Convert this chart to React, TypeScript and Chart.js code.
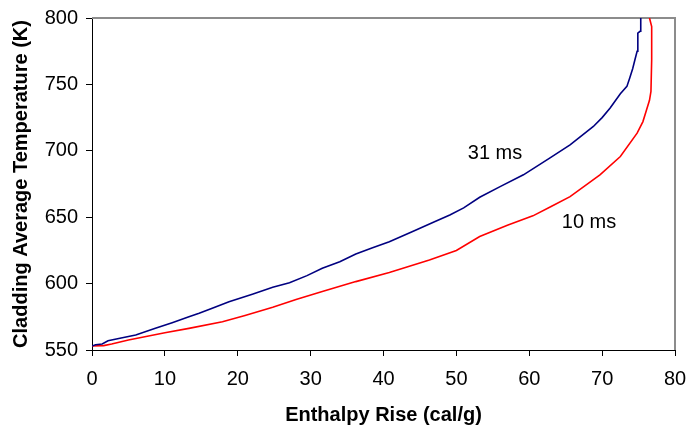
import React, { useEffect, useRef } from "react";
import { Chart, registerables } from "chart.js";

Chart.register(...registerables);

// 31 ms pulse (navy)
const blueX = [0, 0.5, 1.4, 2.2, 4, 6, 8.7, 11, 13.3, 14.7, 16.5, 18.8, 22, 24.8, 27.1, 29.5, 31.6, 34, 36.2, 38.5, 40.8, 44, 47, 49.1, 51, 53.2, 56, 59.2, 62.8, 65.6, 68.8, 70, 71.1, 72.5, 73.4, 73.8, 74.2, 74.5, 74.8, 74.9, 74.9, 75.2, 75.3];
const blueY = [553, 554, 554.5, 557, 559, 561.3, 566.3, 570.5, 575, 577.6, 581.5, 586.4, 592, 597.2, 600.7, 606, 611.5, 616.5, 622.3, 627, 631.6, 639.2, 646.5, 651.7, 657, 665, 673, 681.9, 694.5, 704.5, 718.3, 725, 732.2, 743, 748.5, 755, 762, 768.6, 775, 780, 788.6, 790, 800];

// 10 ms pulse (red)
const redX = [0, 1.6, 2.7, 5, 6.9, 10, 13.3, 17.9, 21, 24.8, 28, 31.6, 36.2, 40.8, 46.3, 50, 53.2, 57, 60.5, 63, 65.6, 69.7, 72.5, 74.8, 75.6, 76.1, 76.5, 76.7, 76.8, 76.8, 76.5];
const redY = [553, 553.3, 554.5, 557.5, 559.6, 563, 566.3, 571.3, 576, 582.2, 588, 594, 601.5, 608.3, 617.8, 625, 635.4, 644, 651, 658, 665.5, 681.9, 695.7, 713.3, 722, 730.9, 738, 744.7, 768.6, 793.6, 800];

const seriesNames = ["31 ms", "10 ms"];
const labelX = [55.3, 68.2];
const labelY = [697.9, 646];

const xTitle = "Enthalpy Rise (cal/g)";
const yTitle = "Cladding Average Temperature (K)";
const FONT = "'Liberation Sans', Arial, sans-serif";

export default function App() {
  const ref = useRef<HTMLCanvasElement | null>(null);

  useEffect(() => {
    const canvas = ref.current;
    if (!canvas) return;
    const toPts = (xs: number[], ys: number[]) => xs.map((x, i) => ({ x, y: ys[i] }));

    const framePlugin = {
      id: "frame",
      beforeDatasetsDraw(chart: any) {
        const { ctx, chartArea } = chart;
        ctx.save();
        ctx.strokeStyle = "#8c8c8c";
        ctx.lineWidth = 2;
        ctx.beginPath();
        ctx.moveTo(chartArea.left, chartArea.top);
        ctx.lineTo(chartArea.right, chartArea.top);
        ctx.lineTo(chartArea.right, chartArea.bottom);
        ctx.stroke();
        ctx.restore();
      },
      afterDraw(chart: any) {
        const { ctx, scales } = chart;
        ctx.save();
        ctx.fillStyle = "#000";
        ctx.font = `20px ${FONT}`;
        ctx.textAlign = "center";
        ctx.textBaseline = "middle";
        seriesNames.forEach((n, i) => {
          ctx.fillText(n, scales.x.getPixelForValue(labelX[i]), scales.y.getPixelForValue(labelY[i]));
        });
        ctx.restore();
      },
    };

    const chart = new Chart(canvas, {
      type: "line",
      data: {
        datasets: [
          {
            label: seriesNames[0],
            data: toPts(blueX, blueY),
            borderColor: "#000080",
            borderWidth: 1.6,
            pointRadius: 0,
            tension: 0,
            fill: false,
          },
          {
            label: seriesNames[1],
            data: toPts(redX, redY),
            borderColor: "#ff0000",
            borderWidth: 1.6,
            pointRadius: 0,
            tension: 0,
            fill: false,
          },
        ],
      },
      options: {
        animation: false,
        responsive: false,
        devicePixelRatio: 1,
        layout: { padding: { left: 0, right: 13, top: 18, bottom: 0 } },
        plugins: { legend: { display: false }, tooltip: { enabled: false } },
        scales: {
          x: {
            type: "linear",
            min: 0,
            max: 80,
            afterFit: (s: any) => { s.height = 77; s.paddingLeft = 0; s.paddingRight = 0; },
            ticks: { stepSize: 10, color: "#000", padding: 11, font: { family: FONT, size: 20 }, maxRotation: 0 },
            grid: { display: true, drawOnChartArea: false, drawTicks: true, tickLength: 6, color: "#000" },
            border: { display: true, color: "#000", width: 1 },
            title: { display: true, text: xTitle, color: "#000", padding: { top: 0, bottom: 0 }, font: { family: FONT, size: 20, weight: "bold" } },
          },
          y: {
            type: "linear",
            min: 550,
            max: 800,
            afterFit: (s: any) => { s.width = 92; s.paddingTop = 0; s.paddingBottom = 0; },
            ticks: { stepSize: 50, color: "#000", padding: 8, font: { family: FONT, size: 20 } },
            grid: { display: true, drawOnChartArea: false, drawTicks: true, tickLength: 6, color: "#000" },
            border: { display: true, color: "#000", width: 1 },
            title: { display: true, text: yTitle, color: "#000", padding: { top: 9, bottom: 0 }, font: { family: FONT, size: 20, weight: "bold" } },
          },
        },
      },
      plugins: [framePlugin],
    } as any);

    return () => chart.destroy();
  }, []);

  return (
    <div style={{ position: "absolute", left: 0, top: 0, width: 688, height: 427, background: "#fff" }}>
      <canvas ref={ref} width={688} height={427} />
    </div>
  );
}
